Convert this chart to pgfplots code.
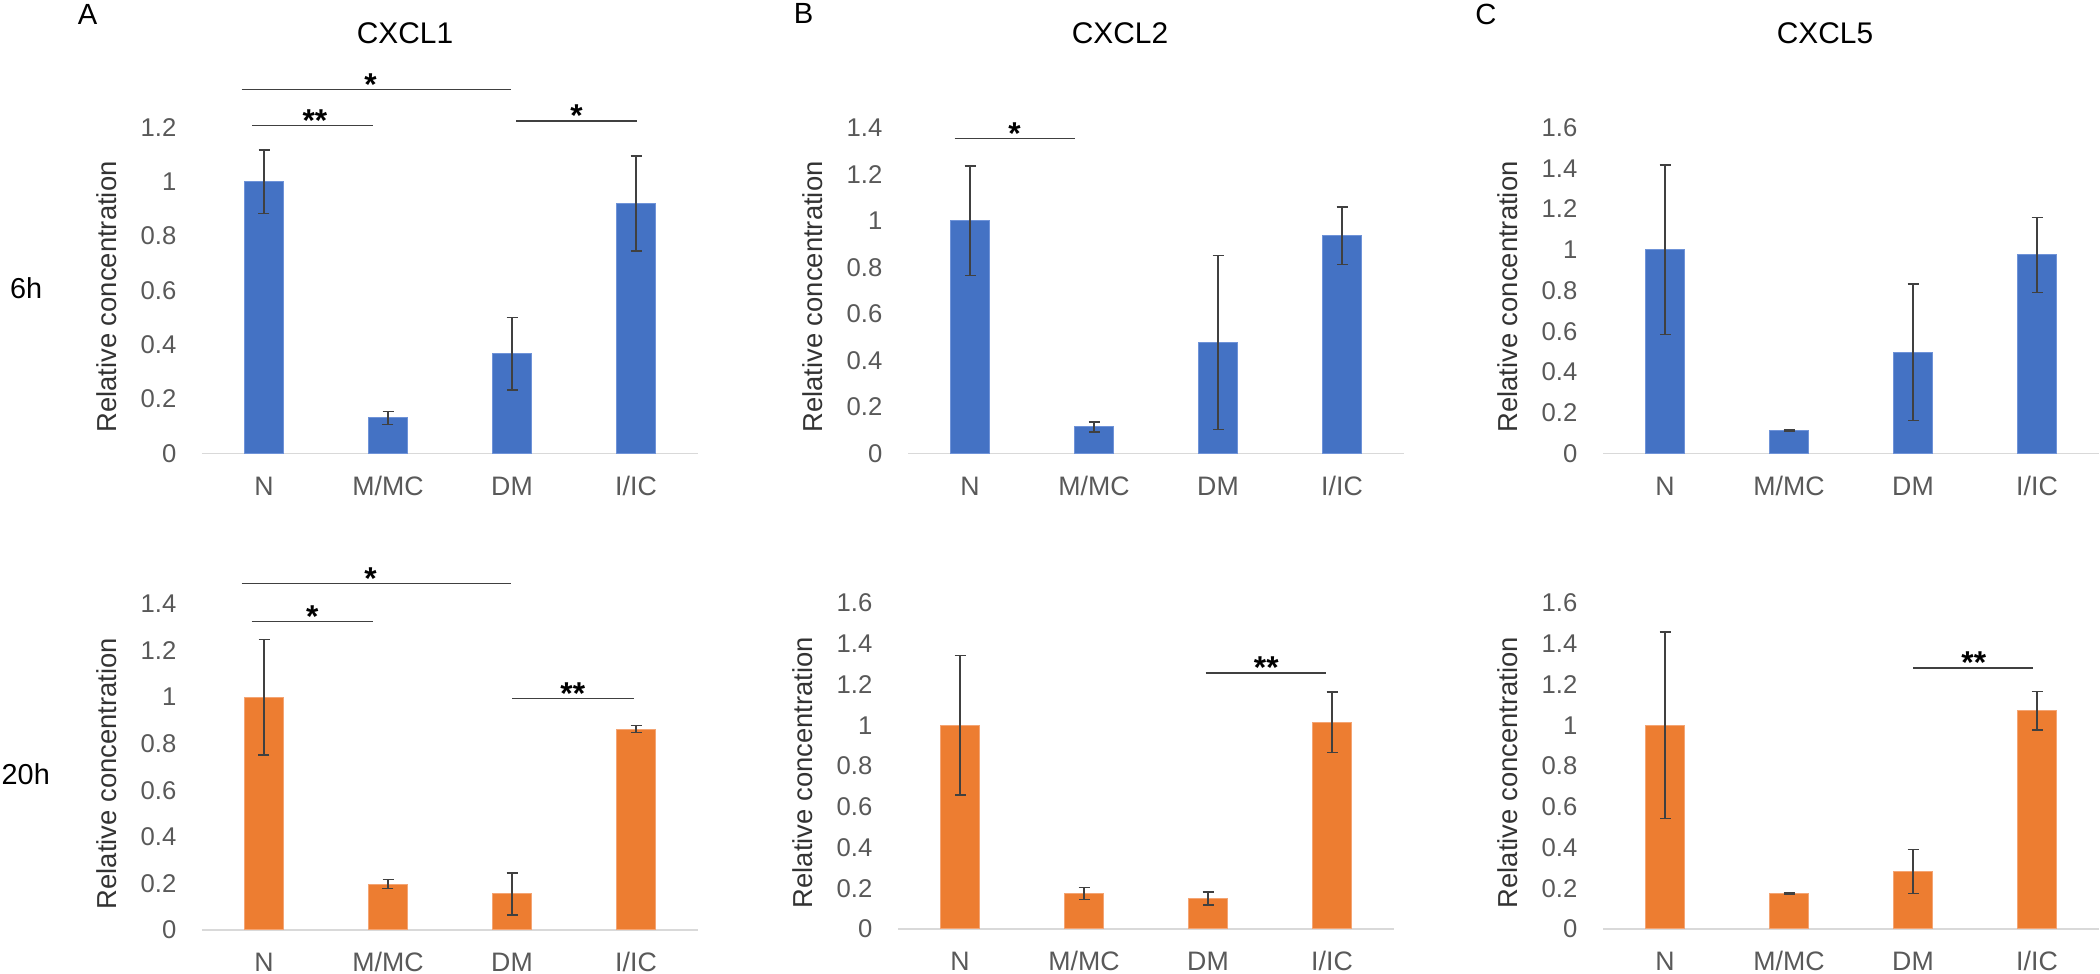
\documentclass[border=0pt]{standalone}
\usepackage{fontspec}
\setmainfont{Liberation Sans}
\usepackage{pgfplots}
\pgfplotsset{compat=1.18}

\definecolor{barblue}{HTML}{4472C4}
\definecolor{barblueedge}{HTML}{6F93D8}
\definecolor{barorange}{HTML}{ED7D31}
\definecolor{barorangeedge}{HTML}{F4A574}
\definecolor{errgray}{HTML}{404040}
\definecolor{axisgray}{HTML}{D9D9D9}
\definecolor{tickgray}{HTML}{595959}

% one panel = one Excel-like bar chart, placed by its plot area
\pgfplotsset{
  panel/.style={
    scale only axis, width=49.6mm, height=32.6mm,
    anchor=south west,
    ybar, bar width=3.86mm,
    xmin=-0.5, xmax=3.5, ymin=0,
    xtick={0,1,2,3}, xticklabels={N, M/MC, DM, I/IC},
    ytick distance=0.2,
    axis lines*=left,
    x axis line style={draw=axisgray, line width=0.15mm},
    y axis line style={draw=none},
    major tick length=0pt, tick style={draw=none},
    xticklabel style={anchor=base, yshift=-4.2mm, inner sep=0pt,
      text=tickgray, font=\fontsize{7.6}{8}\selectfont},
    yticklabel style={anchor=east, xshift=-2.5mm, inner sep=0pt,
      text=tickgray, font=\fontsize{7.3}{8}\selectfont},
    /pgf/number format/assume math mode=true,
    /pgf/number format/fixed, /pgf/number format/precision=1,
    ylabel={Relative concentration},
    every axis y label/.style={at={(axis description cs:-0.193,0.48)},
      rotate=90, anchor=center, text=black!80,
      font=\fontsize{7.8}{8}\selectfont},
    clip=false,
  },
  errs/.style={
    error bars/.cd, y dir=both, y explicit,
    error bar style={draw=errgray, line width=0.14mm},
    error mark options={draw=errgray, line width=0.14mm, mark size=0.55mm, rotate=90},
  },
  sixh/.style={fill=barblue, draw=barblueedge, line width=0.1mm, errs},
  twentyh/.style={fill=barorange, draw=barorangeedge, line width=0.1mm, errs},
}

% significance bracket: from, to, centre, height, stars
\newcommand\sig[5]{%
  \draw[errgray, line width=0.14mm] (axis cs:#1,#4) -- (axis cs:#2,#4);
  \node[anchor=base, inner sep=0pt, yshift=-0.58mm,
    font=\fontsize{9}{9}\bfseries\selectfont] at (axis cs:#3,#4) {#5};}

\begin{document}
\begin{tikzpicture}
\path[use as bounding box] (0,0) rectangle (210mm,-97.4mm);

% ---- CXCL1, 6h
\begin{axis}[panel, at={(20.2mm,-45.35mm)}, ymax=1.2]
\addplot[sixh] coordinates {(0,1.0) +- (0,0.117) (1,0.131) +- (0,0.024)
  (2,0.367) +- (0,0.134) (3,0.92) +- (0,0.175)};
\sig{-0.18}{1.99}{0.86}{1.339}{*}
\sig{-0.095}{0.877}{0.41}{1.207}{**}
\sig{2.036}{3.008}{2.52}{1.224}{*}
\end{axis}

% ---- CXCL1, 20h
\begin{axis}[panel, at={(20.2mm,-93.0mm)}, ymax=1.4]
\addplot[twentyh] coordinates {(0,1.0) +- (0,0.248) (1,0.197) +- (0,0.02)
  (2,0.155) +- (0,0.09) (3,0.863) +- (0,0.015)};
\sig{-0.18}{1.99}{0.86}{1.487}{*}
\sig{-0.1}{0.88}{0.39}{1.325}{*}
\sig{2.0}{2.98}{2.49}{0.994}{**}
\end{axis}

% ---- CXCL2, 6h
\begin{axis}[panel, at={(90.8mm,-45.35mm)}, ymax=1.4]
\addplot[sixh] coordinates {(0,1.0) +- (0,0.235) (1,0.114) +- (0,0.021)
  (2,0.476) +- (0,0.374) (3,0.935) +- (0,0.124)};
\sig{-0.125}{0.847}{0.36}{1.354}{*}
\end{axis}

% ---- CXCL2, 20h
\begin{axis}[panel, at={(89.8mm,-92.9mm)}, ymax=1.6]
\addplot[twentyh] coordinates {(0,1.0) +- (0,0.343) (1,0.175) +- (0,0.029)
  (2,0.150) +- (0,0.032) (3,1.015) +- (0,0.148)};
\sig{1.98}{2.955}{2.47}{1.257}{**}
\end{axis}

% ---- CXCL5, 6h
\begin{axis}[panel, at={(160.3mm,-45.35mm)}, ymax=1.6]
\addplot[sixh] coordinates {(0,1.0) +- (0,0.415) (1,0.114) +- (0,0.004)
  (2,0.496) +- (0,0.335) (3,0.975) +- (0,0.184)};
\end{axis}

% ---- CXCL5, 20h
\begin{axis}[panel, at={(160.3mm,-92.9mm)}, ymax=1.6]
\addplot[twentyh] coordinates {(0,1.0) +- (0,0.458) (1,0.172) +- (0,0.004)
  (2,0.282) +- (0,0.107) (3,1.071) +- (0,0.094)};
\sig{2.0}{2.97}{2.49}{1.28}{**}
\end{axis}

% titles, panel letters, row labels
\begin{scope}[every node/.style={inner sep=0pt}]
\node[anchor=base, font=\fontsize{8.5}{9}\selectfont] at (40.5mm,-4.34mm) {CXCL1};
\node[anchor=base, font=\fontsize{8.5}{9}\selectfont] at (112.0mm,-4.34mm) {CXCL2};
\node[anchor=base, font=\fontsize{8.5}{9}\selectfont] at (182.5mm,-4.34mm) {CXCL5};
\node[anchor=base, font=\fontsize{8.3}{9}\selectfont] at (8.75mm,-2.5mm) {A};
\node[anchor=base, font=\fontsize{8.3}{9}\selectfont] at (80.35mm,-2.4mm) {B};
\node[anchor=base, font=\fontsize{8.3}{9}\selectfont] at (148.6mm,-2.5mm) {C};
\node[anchor=base west, font=\fontsize{8.2}{9}\selectfont] at (0.93mm,-29.83mm) {6h};
\node[anchor=base west, font=\fontsize{8.2}{9}\selectfont] at (0.1mm,-78.5mm) {20h};
\end{scope}
\end{tikzpicture}
\end{document}
